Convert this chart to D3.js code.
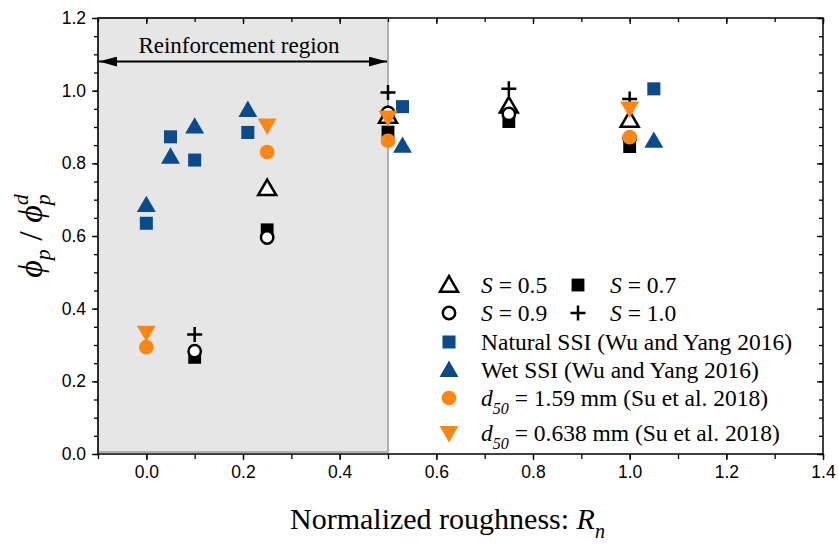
<!DOCTYPE html>
<html><head><meta charset="utf-8">
<script src="https://cdn.jsdelivr.net/npm/d3@7"></script>
<style>
body{margin:0;background:#fff;}
svg{display:block;}
</style></head>
<body>
<svg id="chart" width="838" height="544"></svg>
<script>
// ---- data ----
const sX = [0.1, 0.25, 0.5, 0.75, 1.0];
const s05 = [null, 0.731, 0.93, 0.958, 0.919];
const s07 = [0.266, 0.617, 0.886, 0.915, 0.846];
const s09 = [0.283, 0.596, 0.939, 0.936, 0.87];
const s10 = [0.329, null, 0.995, 1.005, 0.977];
const wuX = [0.0, 0.05, 0.1, 0.21, 0.53, 1.05];
const naturalSSI = [0.635, 0.873, 0.809, 0.885, 0.956, 1.005];
const wetSSI = [0.685, 0.818, 0.901, 0.947, 0.848, 0.862];
const suX = [0.0, 0.25, 0.5, 1.0];
const d159 = [0.294, 0.831, 0.862, 0.872];
const d0638 = [0.334, 0.904, 0.926, 0.951];
const xMajor = [0.0, 0.2, 0.4, 0.6, 0.8, 1.0, 1.2, 1.4];
const yMajor = [0.0, 0.2, 0.4, 0.6, 0.8, 1.0, 1.2];
const regionStart = -0.1, regionEnd = 0.5, regionArrowY = 1.08;

const blue = "#0b4a8b", orange = "#ff8612";
const svg = d3.select("#chart");
const L = 98, R = 823, T = 18, B = 454;
const x = d3.scaleLinear().domain([-0.1, 1.4]).range([L, R]);
const y = d3.scaleLinear().domain([0, 1.2]).range([B, T]);

// shaded region
svg.append("rect").attr("x", x(regionStart)).attr("y", T)
  .attr("width", x(regionEnd) - x(regionStart)).attr("height", B - 2 - T)
  .attr("fill", "#e6e6e6").attr("stroke", "#9a9a9a").attr("stroke-width", 1.5);

// arrow
const defs = svg.append("defs");
defs.append("marker").attr("id", "ah").attr("viewBox", "0 0 18 10")
  .attr("refX", 18).attr("refY", 5).attr("markerWidth", 18).attr("markerHeight", 10)
  .attr("markerUnits", "userSpaceOnUse").attr("orient", "auto-start-reverse")
  .append("path").attr("d", "M0,0 L18,5 L0,10 Z").attr("fill", "#000");
svg.append("line").attr("x1", x(regionStart) + 1).attr("x2", x(regionEnd) - 1)
  .attr("y1", y(regionArrowY)).attr("y2", y(regionArrowY))
  .attr("stroke", "#000").attr("stroke-width", 2)
  .attr("marker-start", "url(#ah)").attr("marker-end", "url(#ah)");
svg.append("text").attr("x", (x(regionStart) + x(regionEnd)) / 2 - 4).attr("y", y(regionArrowY) - 9)
  .attr("text-anchor", "middle").attr("font-family", "Liberation Serif, Times New Roman, serif")
  .attr("font-size", 23).text("Reinforcement region");

// axes
const tickFont = "Liberation Sans, Arial, sans-serif";
function minorVals(lo, hi, step){ const a=[]; for(let i=Math.round(lo/step); i*step<=hi+1e-9; i++) a.push(+(i*step).toFixed(3)); return a; }
const xMinor = minorVals(-0.1, 1.4, 0.1);
const yMinor = minorVals(0, 1.2, 0.05);

const gxB = svg.append("g").attr("transform", `translate(0,${B})`);
gxB.call(d3.axisBottom(x).tickValues(xMinor).tickSize(5).tickFormat(""));
gxB.call(g => g.append("g").call(d3.axisBottom(x).tickValues(xMajor).tickSize(6).tickPadding(6).tickFormat(d3.format(".1f"))));
const gxT = svg.append("g").attr("transform", `translate(0,${T})`);
gxT.call(d3.axisBottom(x).tickValues(xMinor).tickSize(4).tickFormat(""));
gxT.append("g").call(d3.axisBottom(x).tickValues(xMajor).tickSize(6).tickFormat(""));
const gyL = svg.append("g").attr("transform", `translate(${L},0)`);
gyL.call(d3.axisLeft(y).tickValues(yMinor).tickSize(4).tickFormat(""));
gyL.append("g").call(d3.axisLeft(y).tickValues(yMajor).tickSize(6).tickPadding(6).tickFormat(d3.format(".1f")));
const gyR = svg.append("g").attr("transform", `translate(${R},0)`);
gyR.call(d3.axisLeft(y).tickValues(yMinor).tickSize(4).tickFormat(""));
gyR.append("g").call(d3.axisLeft(y).tickValues(yMajor).tickSize(6).tickFormat(""));
svg.selectAll(".domain").remove();
svg.selectAll(".tick line").attr("stroke", "#000").attr("stroke-width", 1.3);
svg.selectAll(".tick text").attr("font-family", tickFont).attr("font-size", 17.5).attr("fill", "#000");
// frame
svg.append("rect").attr("x", L).attr("y", T).attr("width", R - L).attr("height", B - T)
  .attr("fill", "none").attr("stroke", "#000").attr("stroke-width", 1.5);

// markers
const sym = {
  tri: d3.symbol().type(d3.symbolTriangle).size(140),
  sq: d3.symbol().type(d3.symbolSquare).size(165),
  circ: d3.symbol().type(d3.symbolCircle).size(120),
  sqN: d3.symbol().type(d3.symbolSquare).size(170),
  triW: d3.symbol().type(d3.symbolTriangle).size(155),
  circO: d3.symbol().type(d3.symbolCircle).size(170),
  triD: d3.symbol().type(d3.symbolTriangle).size(155)
};
function plusPath(s){ const h=s/2; return `M${-h},0H${h}M0,${-h}V${h}`; }
const styles = {
  s05: {d: sym.tri(), fill: "#fff", stroke: "#000", sw: 2.5, rot: 0, dy: 1.5},
  s07: {d: sym.sq(), fill: "#000", stroke: "none", sw: 0, rot: 0, dy: 0},
  s09: {d: sym.circ(), fill: "#fff", stroke: "#000", sw: 2.5, rot: 0, dy: 0},
  s10: {d: plusPath(15), fill: "none", stroke: "#000", sw: 2.5, rot: 0, dy: 0},
  nat: {d: sym.sqN(), fill: blue, stroke: "none", sw: 0, rot: 0, dy: 0},
  wet: {d: sym.triW(), fill: blue, stroke: "none", sw: 0, rot: 0, dy: 1.5},
  c159: {d: sym.circO(), fill: orange, stroke: "none", sw: 0, rot: 0, dy: 0},
  c0638: {d: sym.triD(), fill: orange, stroke: "none", sw: 0, rot: 180, dy: -1.5}
};
function drawSeries(xs, ys, st){
  const pts = xs.map((v, i) => [v, ys[i]]).filter(p => p[1] != null);
  svg.append("g").selectAll("path").data(pts).join("path")
    .attr("d", st.d)
    .attr("transform", p => `translate(${x(p[0])},${y(p[1]) + st.dy}) rotate(${st.rot})`)
    .attr("fill", st.fill).attr("stroke", st.stroke).attr("stroke-width", st.sw);
}
drawSeries(sX, s05, styles.s05);
drawSeries(sX, s07, styles.s07);
drawSeries(sX, s09, styles.s09);
drawSeries(sX, s10, styles.s10);
drawSeries(wuX, naturalSSI, styles.nat);
drawSeries(wuX, wetSSI, styles.wet);
drawSeries(suX, d159, styles.c159);
drawSeries(suX, d0638, styles.c0638);

// legend
const serif = "Liberation Serif, Times New Roman, serif";
const lg = svg.append("g").attr("font-family", serif).attr("font-size", 23.5).attr("fill", "#000");
function legSym(st, cx, cy){
  lg.append("path").attr("d", st.d).attr("transform", `translate(${cx},${cy + st.dy}) rotate(${st.rot})`)
    .attr("fill", st.fill).attr("stroke", st.stroke).attr("stroke-width", st.sw);
}
function legText(tx, ty, parts){
  const t = lg.append("text").attr("x", tx).attr("y", ty);
  parts.forEach(p => {
    const s = t.append("tspan").text(p.t);
    if (p.i) s.attr("font-style", "italic");
    if (p.sub) s.attr("font-size", 16).attr("dy", 8);
    if (p.back) s.attr("dy", -8);
  });
}
const rows = [285, 313, 342, 370, 398, 433];
legSym(styles.s05, 449, rows[0]); legText(481, rows[0] + 8, [{t:"S", i:true},{t:" = 0.5"}]);
legSym(styles.s07, 578, rows[0]); legText(610, rows[0] + 8, [{t:"S", i:true},{t:" = 0.7"}]);
legSym(styles.s09, 449, rows[1]); legText(481, rows[1] + 8, [{t:"S", i:true},{t:" = 0.9"}]);
legSym(styles.s10, 578, rows[1]); legText(610, rows[1] + 8, [{t:"S", i:true},{t:" = 1.0"}]);
legSym(styles.nat, 449, rows[2]); legText(481, rows[2] + 8, [{t:"Natural SSI (Wu and Yang 2016)"}]);
legSym(styles.wet, 449, rows[3]); legText(481, rows[3] + 8, [{t:"Wet SSI (Wu and Yang 2016)"}]);
legSym(styles.c159, 449, rows[4]); legText(481, rows[4] + 8, [{t:"d", i:true},{t:"50", i:true, sub:true},{t:" = 1.59 mm (Su et al. 2018)", back:true}]);
legSym(styles.c0638, 449, rows[5]); legText(481, rows[5] + 8, [{t:"d", i:true},{t:"50", i:true, sub:true},{t:" = 0.638 mm (Su et al. 2018)", back:true}]);

// axis titles
const xt = svg.append("text").attr("x", 290).attr("y", 529).attr("font-family", serif).attr("font-size", 30).attr("fill", "#000");
xt.append("tspan").text("Normalized roughness: ");
xt.append("tspan").attr("font-style", "italic").text("R");
xt.append("tspan").attr("font-style", "italic").attr("font-size", 20).attr("dy", 9).text("n");

const yt = svg.append("text").attr("transform", "translate(42,236) rotate(-90)")
  .attr("text-anchor", "middle").attr("font-family", serif).attr("font-size", 34).attr("fill", "#000");
yt.append("tspan").attr("font-style", "italic").text("ϕ");
yt.append("tspan").attr("font-style", "italic").attr("font-size", 22).attr("dy", 8).text("p");
yt.append("tspan").attr("dy", -8).text(" / ");
yt.append("tspan").attr("font-style", "italic").text("ϕ");
yt.append("tspan").attr("font-style", "italic").attr("font-size", 22).attr("dy", -14).text("d");
yt.append("tspan").attr("font-style", "italic").attr("font-size", 22).attr("dx", -11).attr("dy", 22).text("p");
</script>
</body></html>
